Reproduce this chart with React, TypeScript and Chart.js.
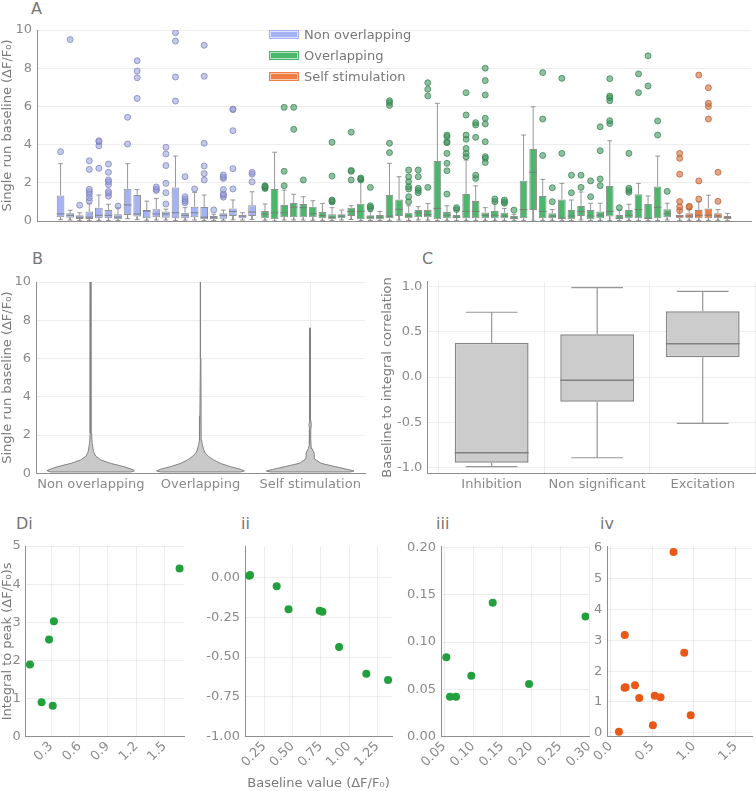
import React, { useEffect, useRef } from "react";
import { Chart, registerables } from "chart.js";

Chart.register(...registerables);

const FONT = "'DejaVu Sans', 'Liberation Sans', sans-serif";
Chart.defaults.font.family = FONT;
Chart.defaults.font.size = 13;

const TICK = "#8a8a8a";
const TITLE = "#7a7a7a";
const AXIS = "#8e8e8e";
const GRID = "rgba(0,0,0,0.07)";

// ---------------- Panel A ----------------
const groupNames = ["Non overlapping", "Overlapping", "Self stimulation"];
const aYTicks = [0, 2, 4, 6, 8, 10];

const nonQ1 = [0.19, 0.17, 0.1, 0.1, 0.14, 0.14, 0.09, 0.31, 0.23, 0.14, 0.19, 0.17, 0.14, 0.14, 0.19, 0.09, 0.09, 0.12, 0.26, 0.15, 0.26];
const nonMedian = [0.37, 0.3, 0.2, 0.2, 0.3, 0.3, 0.2, 0.84, 0.37, 0.52, 0.37, 0.37, 0.43, 0.3, 0.43, 0.2, 0.17, 0.3, 0.5, 0.26, 0.47];
const nonQ3 = [1.34, 0.4, 0.3, 0.5, 0.7, 0.58, 0.35, 1.69, 1.36, 0.58, 0.62, 0.5, 1.76, 0.43, 0.75, 0.73, 0.26, 0.4, 0.66, 0.33, 0.82];
const nonLow = [0.07, 0.05, 0.02, 0.02, 0.03, 0.03, 0.02, 0.12, 0.07, 0.04, 0.05, 0.05, 0.03, 0.04, 0.05, 0.02, 0.03, 0.04, 0.06, 0.05, 0.08];
const nonHigh = [3.0, 0.56, 0.43, 0.9, 1.36, 0.88, 0.7, 3.0, 1.65, 1.04, 1.18, 0.62, 3.4, 0.7, 1.5, 1.36, 0.35, 0.57, 1.1, 0.43, 1.53];
const nonOutliers = [
  [3.63], [9.5], [0.83], [1.05, 1.22, 1.4, 1.53, 1.66, 2.7, 3.15], [2.76, 3.94, 4.15, 4.2],
  [1.3, 1.45, 1.55, 1.9, 2.05, 2.15, 2.55, 2.98], [0.78], [4.03, 5.43], [6.42, 7.5, 7.85, 8.39], [],
  [1.6, 1.66, 1.78], [0.89, 1.48, 1.97, 2.9, 3.51, 3.86], [6.28, 7.54, 9.42, 9.86], [0.95, 1.05, 1.15, 1.27, 2.32], [1.68],
  [2.15, 2.48, 2.88, 4.07, 7.58, 9.2], [0.58], [1.25, 1.35, 1.42, 1.65, 2.23, 2.3, 2.41], [1.68, 2.74, 4.73, 5.83, 5.86], [],
  [2.05, 2.45, 2.55],
];

const ovQ1 = [0.14, 0.09, 0.19, 0.19, 0.19, 0.19, 0.14, 0.09, 0.14, 0.26, 0.09, 0.09, 0.09, 0.14, 0.26, 0.14, 0.19, 0.19, 0.09, 0.14, 0.14, 0.14, 0.14, 0.14, 0.14, 0.14, 0.09, 0.14, 0.58, 0.14, 0.14, 0.09, 0.09, 0.26, 0.09, 0.14, 0.23, 0.09, 0.14, 0.14, 0.09, 0.14, 0.19];
const ovMedian = [0.35, 0.43, 0.43, 0.73, 0.7, 0.38, 0.28, 0.2, 0.26, 0.5, 0.5, 0.2, 0.2, 0.26, 0.61, 0.26, 0.43, 0.33, 0.66, 0.3, 0.2, 0.5, 0.5, 0.3, 0.3, 0.26, 0.15, 0.6, 2.55, 0.5, 0.26, 0.15, 0.26, 0.5, 0.26, 0.3, 0.5, 0.15, 0.3, 0.6, 0.15, 0.72, 0.38];
const ovQ3 = [0.52, 1.67, 0.84, 0.94, 0.89, 0.75, 0.47, 0.35, 0.35, 0.7, 0.9, 0.3, 0.31, 1.36, 1.13, 0.43, 0.58, 0.58, 3.14, 0.47, 0.31, 1.41, 1.05, 0.45, 0.52, 0.43, 0.26, 2.11, 3.77, 1.31, 0.41, 1.13, 0.58, 0.79, 0.58, 0.5, 1.83, 0.31, 0.58, 1.4, 0.89, 1.8, 0.62];
const ovLow = [0.04, 0.0, 0.05, 0.05, 0.05, 0.04, 0.03, 0.02, 0.05, 0.08, 0.02, 0.03, 0.03, 0.02, 0.05, 0.03, 0.05, 0.04, 0.02, 0.03, 0.03, 0.02, 0.03, 0.03, 0.03, 0.03, 0.02, 0.03, 0.0, 0.03, 0.03, 0.02, 0.02, 0.05, 0.02, 0.03, 0.03, 0.02, 0.03, 0.03, 0.02, 0.03, 0.05];
const ovHigh = [0.89, 3.6, 1.62, 1.4, 1.27, 1.06, 0.92, 0.7, 0.57, 0.8, 2.18, 0.5, 0.5, 3.02, 2.32, 0.8, 0.75, 0.92, 6.16, 0.8, 0.57, 3.19, 1.84, 0.7, 1.0, 0.66, 0.35, 4.5, 5.98, 2.18, 0.6, 1.97, 1.1, 1.52, 0.93, 0.93, 4.2, 0.57, 0.88, 1.97, 1.31, 3.4, 0.93];
const ovOutliers = [
  [1.7, 1.75, 1.8, 1.85], [], [1.85, 2.6, 5.95], [4.8, 5.95], [2.15],
  [], [], [1.0, 1.05, 1.1, 2.35, 4.12], [], [2.15, 2.6, 2.65, 4.65],
  [2.15, 2.2, 2.25], [0.65, 0.72, 0.8, 1.76], [], [3.58, 4.07, 6.05, 6.2, 6.3], [],
  [1.01, 1.27, 1.68, 1.8, 2.06, 2.32, 2.67], [1.48, 1.6, 1.71, 2.32, 2.67], [1.76, 6.55, 6.9, 7.24], [], [1.41, 2.63, 3.02, 3.54, 4.1, 4.15, 4.42, 4.5],
  [0.6, 0.7], [3.37, 3.54, 3.8, 4.28, 4.5, 5.55, 6.72], [2.23, 2.4, 4.38, 5.03, 5.15], [3.06, 3.28, 3.37, 4.15, 5.08, 5.38, 6.6, 7.35, 8.0], [1.01, 1.15],
  [0.93, 1.0, 1.1], [0.57], [], [], [3.43, 5.34, 7.77],
  [1.01, 1.74], [3.54, 7.47], [1.48, 2.4], [1.76, 2.4], [1.27, 2.1],
  [1.85, 2.2, 3.68, 4.93], [5.1, 5.25, 6.3, 6.45, 6.54, 7.45], [0.7], [1.5, 1.6, 1.71, 3.54], [6.72, 7.7],
  [7.07, 8.65], [4.5, 5.24], [1.55],
];

const selfQ1 = [0.14, 0.14, 0.14, 0.14, 0.14, 0.09];
const selfMedian = [0.26, 0.26, 0.3, 0.3, 0.26, 0.17];
const selfQ3 = [0.33, 0.41, 0.58, 0.66, 0.41, 0.26];
const selfLow = [0.03, 0.03, 0.03, 0.03, 0.03, 0.02];
const selfHigh = [0.6, 0.6, 1.0, 1.35, 0.6, 0.4];
const selfOutliers = [
  [0.55, 0.74, 1.02, 2.45, 3.28, 3.54], [0.72, 0.77], [1.15, 2.1, 7.64], [5.34, 6.0, 6.16, 6.98], [1.03, 2.55], [],
];

// ---------------- Panel B ----------------
const bCategories = ["Non overlapping", "Overlapping", "Self stimulation"];
const bYTicks = [0, 2, 4, 6, 8, 10];
const violinNonY = [0.07, 0.12, 0.17, 0.35, 0.52, 0.7, 0.9, 1.13, 1.57, 2.1, 4, 10];
const violinNonDensity = [0.91, 0.99, 0.98, 0.75, 0.45, 0.23, 0.11, 0.061, 0.03, 0.018, 0.011, 0.007];
const violinOvY = [0.07, 0.12, 0.2, 0.35, 0.52, 0.7, 0.87, 1.05, 1.22, 1.5, 1.74, 3, 6, 10];
const violinOvDensity = [0.91, 1.0, 0.93, 0.68, 0.45, 0.3, 0.19, 0.11, 0.075, 0.041, 0.023, 0.014, 0.009, 0.007];
const violinSelfY = [0.07, 0.12, 0.2, 0.35, 0.52, 0.75, 0.9, 1.0, 1.12, 1.3, 1.5, 1.8, 2.3, 2.55, 2.8, 4, 7.6];
const violinSelfDensity = [0.91, 1.0, 0.86, 0.57, 0.25, 0.1, 0.09, 0.098, 0.08, 0.041, 0.02, 0.014, 0.014, 0.027, 0.011, 0.009, 0.007];

// ---------------- Panel C ----------------
const cCategories = ["Inhibition", "Non significant", "Excitation"];
const cYTicks = [-1, -0.5, 0, 0.5, 1];
const cQ1 = [-0.95, -0.273, 0.218];
const cMedian = [-0.838, -0.037, 0.369];
const cQ3 = [0.38, 0.473, 0.727];
const cLow = [-0.993, -0.894, -0.513];
const cHigh = [0.717, 0.99, 0.949];

// ---------------- Panel D ----------------
const d1X = [0.077, 0.2, 0.318, 0.279, 0.33, 1.66];
const d1Y = [1.89, 0.9, 0.81, 2.55, 3.03, 4.41];
const d1XTicks = [0.3, 0.6, 0.9, 1.2, 1.5];
const d1YTicks = [0, 1, 2, 3, 4, 5];

const d2X = [0.118, 0.125, 0.36, 0.465, 0.74, 0.765, 0.912, 1.153, 1.345];
const d2Y = [0.01, 0.015, -0.055, -0.2, -0.21, -0.216, -0.437, -0.605, -0.644];
const d2XTicks = [0.25, 0.5, 0.75, 1.0, 1.25];
const d2YTicks = [-1, -0.75, -0.5, -0.25, 0];

const d3X = [0.054, 0.0603, 0.0707, 0.0971, 0.134, 0.1966, 0.294];
const d3Y = [0.0838, 0.0422, 0.0422, 0.0644, 0.1415, 0.0556, 0.127];
const d3XTicks = [0.05, 0.1, 0.15, 0.2, 0.25, 0.3];
const d3YTicks = [0, 0.05, 0.1, 0.15, 0.2];

const d4X = [0.1, 0.17, 0.168, 0.18, 0.293, 0.344, 0.508, 0.53, 0.6, 0.757, 0.885, 0.963];
const d4Y = [0.03, 3.17, 1.46, 1.48, 1.54, 1.13, 0.24, 1.2, 1.15, 5.87, 2.6, 0.57];
const d4XTicks = [0, 0.5, 1.0, 1.5];
const d4YTicks = [0, 1, 2, 3, 4, 5, 6];

// ---------------- styles ----------------
const BOX_FILL = ["rgb(165,179,245)", "rgb(76,183,108)", "rgb(238,125,68)"];
const OUT_FILL = ["rgba(150,156,214,0.55)", "rgba(66,150,96,0.6)", "rgba(212,118,70,0.65)"];
const OUT_LINE = ["rgba(118,124,186,0.7)", "rgba(48,128,76,0.7)", "rgba(186,94,50,0.75)"];
const BOX_LINE = "rgba(125,125,125,0.85)";
const WHISKER = "rgba(140,140,140,0.9)";
const GREEN_PT = "rgb(34,160,62)";
const ORANGE_PT = "rgb(233,88,22)";

type Box = { x: number; g: number; q1: number; med: number; q3: number; lo: number; hi: number; out: number[] };

const groups = [
  { q1: nonQ1, med: nonMedian, q3: nonQ3, lo: nonLow, hi: nonHigh, out: nonOutliers },
  { q1: ovQ1, med: ovMedian, q3: ovQ3, lo: ovLow, hi: ovHigh, out: ovOutliers },
  { q1: selfQ1, med: selfMedian, q3: selfQ3, lo: selfLow, hi: selfHigh, out: selfOutliers },
];
const GROUP_START = [0, 21.35, 64.65];

const aBoxes: Box[] = [];
groups.forEach((g, gi) =>
  g.q1.forEach((_, i) =>
    aBoxes.push({ x: GROUP_START[gi] + i, g: gi, q1: g.q1[i], med: g.med[i], q3: g.q3[i], lo: g.lo[i], hi: g.hi[i], out: g.out[i] })
  )
);

const cBoxes: Box[] = cQ1.map((_, i) => ({ x: i, g: 0, q1: cQ1[i], med: cMedian[i], q3: cQ3[i], lo: cLow[i], hi: cHigh[i], out: [] }));

function whiskerPoints(items: Box[], cap: number) {
  return items.flatMap((b) => [
    { x: b.x, y: b.q3 }, { x: b.x, y: b.hi }, { x: b.x, y: null },
    { x: b.x - cap, y: b.hi }, { x: b.x + cap, y: b.hi }, { x: b.x, y: null },
    { x: b.x, y: b.q1 }, { x: b.x, y: b.lo }, { x: b.x, y: null },
    { x: b.x - cap, y: b.lo }, { x: b.x + cap, y: b.lo }, { x: b.x, y: null },
  ]);
}
function medianPoints(items: Box[], half: number) {
  return items.flatMap((b) => [{ x: b.x - half, y: b.med }, { x: b.x + half, y: b.med }, { x: b.x, y: null }]);
}

function violinPoints(center: number, ys: number[], dens: number[], maxHalf: number) {
  const right = ys.map((y, i) => ({ x: center + dens[i] * maxHalf, y }));
  const left = ys.map((y, i) => ({ x: center - dens[i] * maxHalf, y })).reverse();
  return [...right, ...left, right[0]];
}

const violinFill = {
  id: "violinFill",
  beforeDatasetDraw(chart: any, args: any) {
    const ds = chart.data.datasets[args.index];
    if (!ds.violinFill) return;
    const pts = args.meta.data;
    const ctx = chart.ctx;
    ctx.save();
    ctx.beginPath();
    pts.forEach((p: any, i: number) => (i ? ctx.lineTo(p.x, p.y) : ctx.moveTo(p.x, p.y)));
    ctx.closePath();
    ctx.fillStyle = ds.violinFill;
    ctx.fill();
    ctx.restore();
  },
};

const base = {
  responsive: false,
  animation: false,
  events: [],
  plugins: { legend: { display: false }, tooltip: { enabled: false } },
};

function yAxis(o: { min: number; max: number; ticks: number[]; fmt: (v: number) => string; width: number; title?: string; grid?: boolean }) {
  return {
    type: "linear",
    min: o.min,
    max: o.max,
    afterBuildTicks: (s: any) => {
      s.ticks = o.ticks.map((v) => ({ value: v }));
    },
    afterFit: (s: any) => {
      s.width = o.width;
      s.paddingTop = 0;
      s.paddingBottom = 0;
    },
    grid: { display: o.grid !== false, color: GRID, drawTicks: false, lineWidth: 1 },
    border: { display: true, color: AXIS, width: 1 },
    ticks: { color: TICK, font: { size: 13 }, padding: 5, autoSkip: false, callback: (v: number) => o.fmt(v) },
    title: o.title
      ? { display: true, text: o.title, color: TITLE, font: { size: 13 }, padding: 0 }
      : { display: false },
  };
}

function xAxis(o: { min: number; max: number; ticks?: number[]; fmt?: (v: number) => string; height: number; rotate?: boolean; grid?: boolean; showTicks?: boolean; title?: string; pad?: number }) {
  return {
    type: "linear",
    min: o.min,
    max: o.max,
    offset: false,
    afterBuildTicks: (s: any) => {
      if (o.ticks) s.ticks = o.ticks.map((v) => ({ value: v }));
    },
    afterFit: (s: any) => {
      s.height = o.height;
      s.paddingLeft = 0;
      s.paddingRight = 0;
    },
    grid: { display: o.grid !== false, color: GRID, drawTicks: false, lineWidth: 1 },
    border: { display: true, color: AXIS, width: 1 },
    ticks: {
      display: o.showTicks !== false,
      color: TICK,
      font: { size: 13 },
      padding: o.pad ?? 4,
      autoSkip: false,
      minRotation: o.rotate ? 45 : 0,
      maxRotation: o.rotate ? 45 : 0,
      callback: (v: number) => (o.fmt ? o.fmt(v) : String(v)),
    },
    title: o.title
      ? { display: true, text: o.title, color: TITLE, font: { size: 13 }, padding: { top: 0, bottom: 0 } }
      : { display: false },
  };
}

function makeA(): any {
  const outDatasets = groups.map((_, gi) => ({
    type: "scatter",
    data: aBoxes.filter((b) => b.g === gi).flatMap((b) => b.out.map((v) => ({ x: b.x, y: v }))),
    backgroundColor: OUT_FILL[gi],
    borderColor: OUT_LINE[gi],
    borderWidth: 1,
    pointRadius: 3,
    order: 1,
  }));
  return {
    type: "bar",
    data: {
      datasets: [
        { type: "line", data: medianPoints(aBoxes, 0.4), borderColor: "rgba(120,120,120,0.9)", borderWidth: 1, pointRadius: 0, spanGaps: false, order: 0 },
        ...outDatasets,
        {
          type: "bar",
          data: aBoxes.map((b) => ({ x: b.x, y: [b.q1, b.q3] })),
          backgroundColor: aBoxes.map((b) => BOX_FILL[b.g]),
          borderColor: BOX_LINE,
          borderWidth: 1,
          borderSkipped: false,
          barPercentage: 0.8,
          categoryPercentage: 1,
          order: 2,
        },
        { type: "line", data: whiskerPoints(aBoxes, 0.25), borderColor: WHISKER, borderWidth: 1, pointRadius: 0, spanGaps: false, order: 3 },
      ],
    },
    options: {
      ...base,
      layout: { padding: { top: 10, right: 1, left: 0, bottom: 0 } },
      scales: {
        x: xAxis({ min: -2.46, max: 72.1, height: 9, grid: false, showTicks: false }),
        y: yAxis({ min: 0, max: 10, ticks: aYTicks, fmt: (v) => String(v), width: 37, title: "Single run baseline (ΔF/F₀)" }),
      },
    },
  };
}

function makeB(): any {
  const profiles = [
    [violinNonY, violinNonDensity],
    [violinOvY, violinOvDensity],
    [violinSelfY, violinSelfDensity],
  ];
  return {
    type: "scatter",
    data: {
      datasets: profiles.map(([ys, ds], i) => ({
        data: violinPoints(i, ys, ds, 0.4),
        showLine: true,
        borderColor: "rgba(128,128,128,0.95)",
        borderWidth: 1,
        pointRadius: 0,
        tension: 0,
        violinFill: "rgb(201,201,201)",
      })),
    },
    options: {
      ...base,
      layout: { padding: { top: 12, right: 7, left: 0, bottom: 0 } },
      scales: {
        x: xAxis({ min: -0.5, max: 2.5, ticks: [0, 1, 2], fmt: (v) => bCategories[v] ?? "", height: 26.7, pad: 4 }),
        y: yAxis({ min: 0, max: 10, ticks: bYTicks, fmt: (v) => String(v), width: 36, title: "Single run baseline (ΔF/F₀)" }),
      },
    },
    plugins: [violinFill],
  };
}

function makeC(): any {
  return {
    type: "bar",
    data: {
      datasets: [
        { type: "line", data: medianPoints(cBoxes, 0.35), borderColor: "rgb(128,128,128)", borderWidth: 1.5, pointRadius: 0, spanGaps: false, order: 0 },
        {
          type: "bar",
          data: cBoxes.map((b) => ({ x: b.x, y: [b.q1, b.q3] })),
          backgroundColor: "rgb(204,204,204)",
          borderColor: "rgb(135,135,135)",
          borderWidth: 1.5,
          borderSkipped: false,
          barPercentage: 0.7,
          categoryPercentage: 1,
          order: 2,
        },
        { type: "line", data: whiskerPoints(cBoxes, 0.245), borderColor: "rgb(150,150,150)", borderWidth: 1.2, pointRadius: 0, spanGaps: false, order: 3 },
      ],
    },
    options: {
      ...base,
      layout: { padding: { top: 11.7, right: 0, left: 0, bottom: 0 } },
      scales: {
        x: xAxis({ min: -0.61, max: 2.505, ticks: [0, 1, 2], fmt: (v) => cCategories[v] ?? "", height: 26.7, pad: 4 }),
        y: yAxis({ min: -1.066, max: 1.055, ticks: cYTicks, fmt: (v) => v.toFixed(1), width: 47.3, title: "Baseline to integral correlation" }),
      },
    },
  };
}

function makeD(o: {
  xs: number[]; ys: number[]; color: string; xMin: number; xMax: number; yMin: number; yMax: number;
  xTicks: number[]; yTicks: number[]; xDec: number; yDec: number; yWidth: number; padRight: number; yTitle?: string; xTitle?: string;
}): any {
  return {
    type: "scatter",
    data: {
      datasets: [
        {
          data: o.xs.map((x, i) => ({ x, y: o.ys[i] })),
          backgroundColor: o.color,
          borderColor: o.color,
          borderWidth: 0,
          pointRadius: 4,
        },
      ],
    },
    options: {
      ...base,
      layout: { padding: { top: 10, right: o.padRight, left: 0, bottom: 0 } },
      scales: {
        x: xAxis({ min: o.xMin, max: o.xMax, ticks: o.xTicks, fmt: (v) => v.toFixed(o.xDec), height: 54.3, rotate: true, pad: 2, title: o.xTitle }),
        y: yAxis({ min: o.yMin, max: o.yMax, ticks: o.yTicks, fmt: (v) => v.toFixed(o.yDec), width: o.yWidth, title: o.yTitle }),
      },
    },
  };
}

function ChartCanvas({ left, top, width, height, make }: { left: number; top: number; width: number; height: number; make: () => any }) {
  const ref = useRef<HTMLCanvasElement>(null);
  useEffect(() => {
    const chart = new Chart(ref.current as HTMLCanvasElement, make());
    return () => chart.destroy();
  }, []);
  return (
    <canvas
      ref={ref}
      width={width}
      height={height}
      style={{ position: "absolute", left, top, width, height, display: "block" }}
    />
  );
}

const panelLabel = (text: string, left: number, top: number) => (
  <div
    key={text}
    style={{ position: "absolute", left, top, fontSize: 16, lineHeight: "16px", color: "#767676", fontFamily: FONT }}
  >
    {text}
  </div>
);

export default function App() {
  return (
    <div
      style={{
        position: "absolute",
        left: 0,
        top: 0,
        width: 756,
        height: 791,
        overflow: "hidden",
        background: "#fff",
        fontFamily: FONT,
      }}
    >
      <ChartCanvas left={0} top={20} width={756} height={210} make={makeA} />
      <ChartCanvas left={0} top={270} width={372} height={230} make={makeB} />
      <ChartCanvas left={380} top={270} width={376} height={230} make={makeC} />
      <ChartCanvas
        left={0} top={536} width={190} height={255}
        make={() => makeD({ xs: d1X, ys: d1Y, color: GREEN_PT, xMin: 0.032, xMax: 1.71, yMin: 0, yMax: 5, xTicks: d1XTicks, yTicks: d1YTicks, xDec: 1, yDec: 0, yWidth: 25.7, padRight: 5.7, yTitle: "Integral to peak (ΔF/F₀)s" })}
      />
      <ChartCanvas
        left={200} top={536} width={200} height={255}
        make={() => makeD({ xs: d2X, ys: d2Y, color: GREEN_PT, xMin: 0.08, xMax: 1.38, yMin: -1, yMax: 0.197, xTicks: d2XTicks, yTicks: d2YTicks, xDec: 2, yDec: 2, yWidth: 45, padRight: 8, xTitle: "Baseline value (ΔF/F₀)" })}
      />
      <ChartCanvas
        left={400} top={536} width={195} height={255}
        make={() => makeD({ xs: d3X, ys: d3Y, color: GREEN_PT, xMin: 0.0448, xMax: 0.3, yMin: 0, yMax: 0.2014, xTicks: d3XTicks, yTicks: d3YTicks, xDec: 2, yDec: 2, yWidth: 41, padRight: 6 })}
      />
      <ChartCanvas
        left={590} top={536} width={166} height={255}
        make={() => makeD({ xs: d4X, ys: d4Y, color: ORANGE_PT, xMin: -0.04, xMax: 1.7, yMin: -0.13, yMax: 6.065, xTicks: d4XTicks, yTicks: d4YTicks, xDec: 1, yDec: 0, yWidth: 17.3, padRight: 0 })}
      />

      {groupNames.map((name, i) => (
        <div key={name} style={{ position: "absolute", left: 270, top: 27 + i * 21, height: 15, display: "flex", alignItems: "center" }}>
          <div style={{ width: 26, height: 5, background: BOX_FILL[i], border: "1px solid rgba(255,255,255,0.6)", outline: `1px solid ${BOX_FILL[i]}` }} />
          <div style={{ marginLeft: 6, fontSize: 13, lineHeight: "15px", color: "#777", whiteSpace: "nowrap" }}>{name}</div>
        </div>
      ))}

      {panelLabel("A", 31, 1)}
      {panelLabel("B", 32, 251)}
      {panelLabel("C", 422, 251)}
      {panelLabel("Di", 16, 516)}
      {panelLabel("ii", 241, 516)}
      {panelLabel("iii", 436, 516)}
      {panelLabel("iv", 600, 516)}
    </div>
  );
}
